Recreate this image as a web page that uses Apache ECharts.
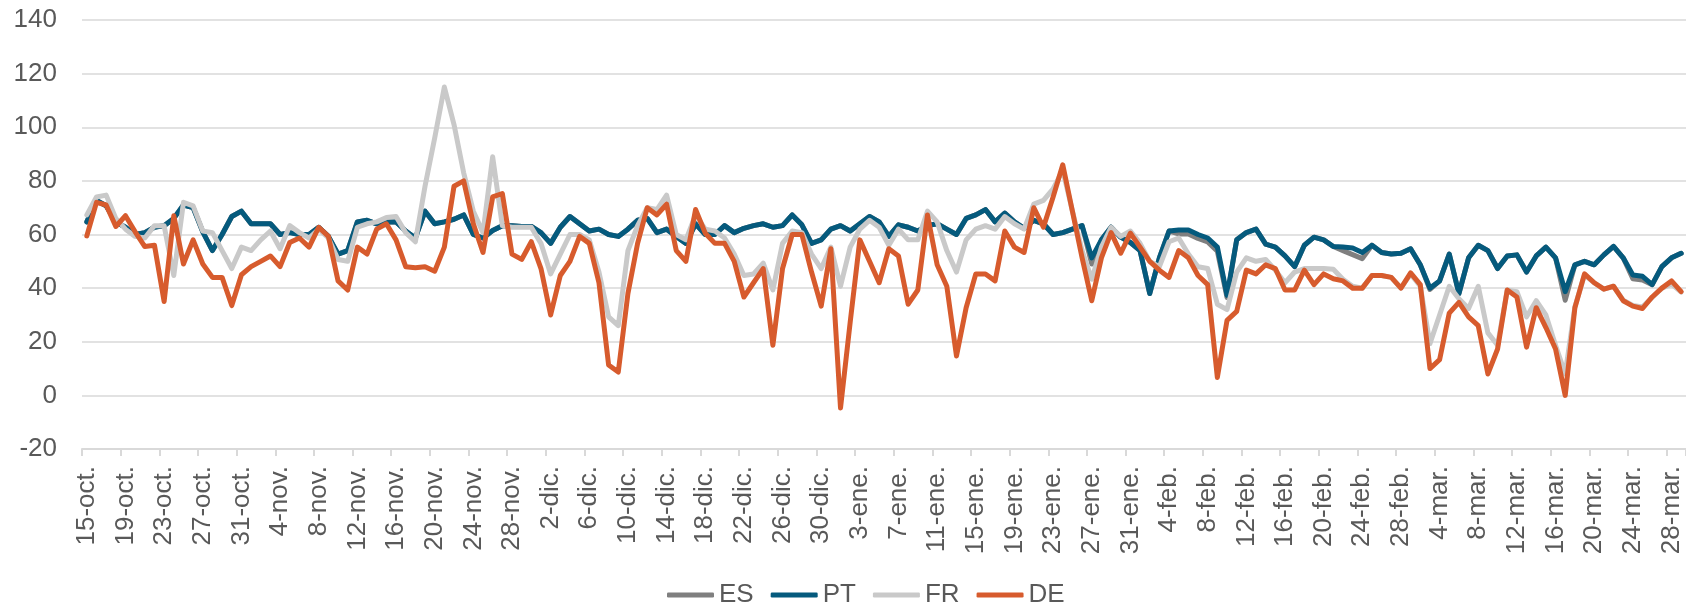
<!DOCTYPE html>
<html>
<head>
<meta charset="utf-8">
<script src="https://cdn.jsdelivr.net/npm/echarts@6/dist/echarts.min.js"></script>
<style>
html,body{margin:0;padding:0;background:#fff;}
#chart{width:1686px;height:610px;}
</style>
</head>
<body>
<div id="chart"></div>
<script>
// Month segments for the daily category labels (label, first day, last day)
const monthNames = ['oct.', 'nov.', 'dic.', 'ene.', 'feb.', 'mar.'];
const monthFirstDay = [15, 1, 1, 1, 1, 1];
const monthLastDay = [31, 30, 31, 31, 28, 29];

const seriesNames = ['ES', 'PT', 'FR', 'DE'];

const ES = [64.7, 72.7, 70.7, 64.7, 62.7, 60, 60.7, 62.7, 63.3, 66, 71, 70, 61, 54, 60, 66.7, 68.7, 64, 64, 64, 60, 60.7,
60, 60, 62.7, 59.3, 52.7, 54, 64.7, 65.3, 64, 64.7, 64.7, 61.3, 58.7, 68.7, 64, 64.7, 65.7, 67.3, 60, 58.7, 61.5,
63.3, 63.3, 63, 63, 60.7, 56.7, 62.7, 66.7, 64, 61.3, 62, 60, 59.3, 62, 65.3, 66, 60.7, 62, 59.3, 56.7, 64,
60, 60, 63.3, 60.7, 62.3, 63.3, 64, 62.7, 63.3, 67.3, 63.6, 56.7, 58, 62, 63.3, 61.3, 64, 66.7, 64.7, 59.3, 63.6, 62.7,
61.3, 63.3, 64, 62, 60, 66, 67.3, 69.3, 64.7, 68, 64.7, 62.3, 65.3, 64, 60, 60.7, 62, 63.3, 49, 58, 62.7, 59, 57,
54, 38, 51.3, 61.3, 60.2, 60.2, 58.5, 57.2, 53.8, 36.5, 58, 60.7, 62, 56.4, 55.3, 52, 48, 56, 59, 58, 55.5,
54, 52.5, 51, 56, 53.3, 52.7, 53, 54.7, 48.7, 39.5, 42.7, 52.7, 38, 51.3, 56, 54, 47.3, 52, 52.4, 46,
52, 55.3, 51.3, 35.5, 48.7, 50, 48.7, 52.4, 55.6, 51.3, 43.5, 43, 41.3, 48, 51.3, 53];

const PT = [64.7, 72.7, 70.7, 64.7, 62.7, 60, 60.7, 62.7, 63.3, 66, 71, 70, 61, 54, 60, 66.7, 68.7, 64, 64, 64, 60, 60.7,
60, 60, 62.7, 59.3, 52.7, 54, 64.7, 65.3, 64, 64.7, 64.7, 61.3, 58.7, 68.7, 64, 64.7, 65.7, 67.3, 60, 58.7, 61.5,
63.3, 63.3, 63, 63, 60.7, 56.7, 62.7, 66.7, 64, 61.3, 62, 60, 59.3, 62, 65.3, 66, 60.7, 62, 59.3, 56.7, 64,
60, 60, 63.3, 60.7, 62.3, 63.3, 64, 62.7, 63.3, 67.3, 63.6, 56.7, 58, 62, 63.3, 61.3, 64, 66.7, 64.7, 59.3, 63.6, 62.7,
61.3, 63.3, 64, 62, 60, 66, 67.3, 69.3, 64.7, 68, 64.7, 62.3, 65.3, 64, 60, 60.7, 62, 63.3, 51.3, 58, 62.7, 59, 57,
54, 38, 51.3, 61.3, 61.7, 61.7, 60, 58.7, 55.3, 37.3, 58, 60.7, 62, 56.4, 55.3, 52, 48, 56, 59, 58, 55.5,
55.3, 55, 53.3, 56, 53.3, 52.7, 53, 54.7, 48.7, 40, 42.7, 52.7, 38, 51.3, 56, 54, 47.3, 52, 52.4, 46,
52, 55.3, 51.3, 38.7, 48.7, 50, 48.7, 52.4, 55.6, 51.3, 44.9, 44.4, 41.3, 48, 51.3, 53];

const FR = [67.3, 74, 74.7, 66, 62, 59.3, 58.7, 63.3, 63.3, 44.7, 72, 70.7, 61.3, 60.7, 54, 47.3, 55.3, 54, 58, 61.3, 54.7, 63.3,
60.7, 58.7, 62, 58.7, 50.7, 50, 62.7, 64, 64.7, 66.3, 66.7, 60.7, 57.3, 78, 96, 115, 101, 83, 68.7, 60.7, 89,
63.3, 62.7, 62.7, 62.7, 56.7, 45.3, 52.7, 60, 60, 58, 46, 29.3, 26, 54, 63.3, 70, 69.3, 74.7, 60, 58, 67.3,
62, 61.3, 58.7, 52.7, 44.7, 45.3, 49.3, 39.3, 56.7, 61.3, 60.7, 52.7, 47.3, 55.3, 40.7, 55.3, 62, 65.3, 62.7, 56, 62, 58,
58, 68.7, 64.7, 54, 46, 58, 62, 63.3, 62, 66.7, 64, 62, 71.3, 72.7, 77, 84, 68.7, 54, 43.3, 55.3, 62.7, 59.3, 61.3,
56.7, 50, 48, 57.3, 58.7, 52.7, 48, 47.3, 34, 32, 46, 51.3, 50, 50.7, 46.7, 42, 46, 47.3, 47.3, 47.3, 47,
43.3, 40.7, 40, 44.7, 44.7, 44, 40, 45.3, 40.7, 19.3, 30, 40.7, 36, 32.4, 40.7, 23.3, 18.7, 39.3, 38.7, 29.3,
35.3, 30, 18.7, 8, 33, 45, 42, 39.6, 40.7, 35.5, 33.5, 33, 36.5, 40, 41.5, 38.5];

const DE = [59.5, 72, 71, 63, 67, 61, 55.5, 56, 35, 67, 49, 58, 49, 44, 44, 33.5, 45, 48, 50, 52, 48, 57,
58.7, 55.3, 62.7, 59.3, 42.7, 39.3, 55.3, 52.7, 62, 64, 58, 48, 47.6, 48, 46.3, 55.3, 78, 80, 64, 53.3, 74,
75.3, 52.7, 50.7, 57.3, 47.3, 30, 44.7, 50, 59.3, 56.7, 42, 11.3, 8.7, 38, 56.7, 70, 67.3, 71.3, 54, 50, 69.3,
60.5, 56.7, 56.7, 50, 36.7, 42, 47.3, 18.7, 47.3, 60, 60, 46, 33.3, 54.7, -4.7, 27.3, 58, 50, 42, 54.7, 52, 34,
39.3, 67.3, 48.7, 40.7, 14.7, 32.7, 45.3, 45.3, 42.7, 61.3, 55.3, 53.3, 70, 62.7, 74, 86, 68.7, 51.3, 35.3, 51.3, 60.7, 53, 60.5,
55.3, 50, 46.7, 44, 54, 51.3, 44.7, 41.3, 6.7, 28, 31.3, 46.7, 45.3, 48.7, 47.3, 39.3, 39.3, 46.7, 41.3, 45.3, 43.5,
42.7, 40, 40, 44.7, 44.7, 44, 40, 45.7, 41.3, 10, 13.3, 30.7, 34.7, 29.3, 26, 8, 17.3, 39.3, 36.7, 18,
32.7, 25.3, 17.3, 0, 32.7, 45.3, 42, 39.6, 40.7, 35.3, 33.3, 32.4, 36.7, 40, 42.7, 38.7];

const colors = ['#7f7f7f', '#055a7d', '#c9c9c9', '#d75b2d'];

// build day labels
const categories = [];
for (let m = 0; m < monthNames.length; m++) {
  for (let d = monthFirstDay[m]; d <= monthLastDay[m]; d++) {
    categories.push(d + '-' + monthNames[m]);
  }
}

const FONT = '"Liberation Sans", Arial, sans-serif';
const dataSets = [ES, PT, FR, DE];

const chart = echarts.init(document.getElementById('chart'), null, {renderer: 'canvas'});
chart.setOption({
  animation: false,
  color: colors,
  textStyle: {fontFamily: FONT},
  grid: {left: 82, top: 20, height: 429, width: 1607, containLabel: false},
  legend: {
    data: seriesNames,
    left: 667,
    top: 582,
    padding: 0,
    icon: 'roundRect',
    itemWidth: 47,
    itemHeight: 5,
    itemGap: 17,
    textStyle: {color: '#595959', fontSize: 26, fontFamily: FONT}
  },
  xAxis: {
    type: 'category',
    data: categories,
    boundaryGap: true,
    axisLine: {onZero: false, lineStyle: {color: '#d9d9d9', width: 2}},
    axisTick: {show: true, interval: 3, length: 7, lineStyle: {color: '#d9d9d9', width: 2}},
    axisLabel: {interval: 3, rotate: 90, margin: 17, color: '#595959', fontSize: 26, fontFamily: FONT}
  },
  yAxis: {
    type: 'value',
    min: -20,
    max: 140,
    interval: 20,
    axisLine: {show: false},
    axisTick: {show: false},
    axisLabel: {margin: 25, color: '#595959', fontSize: 26, fontFamily: FONT},
    splitLine: {lineStyle: {color: '#d9d9d9', width: 1.5}}
  },
  series: seriesNames.map((n, k) => ({
    name: n,
    type: 'line',
    data: dataSets[k],
    symbol: 'none',
    showSymbol: false,
    lineStyle: {width: 5, color: colors[k], cap: 'round', join: 'round'},
    itemStyle: {color: colors[k]},
    z: 2 + k
  }))
});
</script>
</body>
</html>
